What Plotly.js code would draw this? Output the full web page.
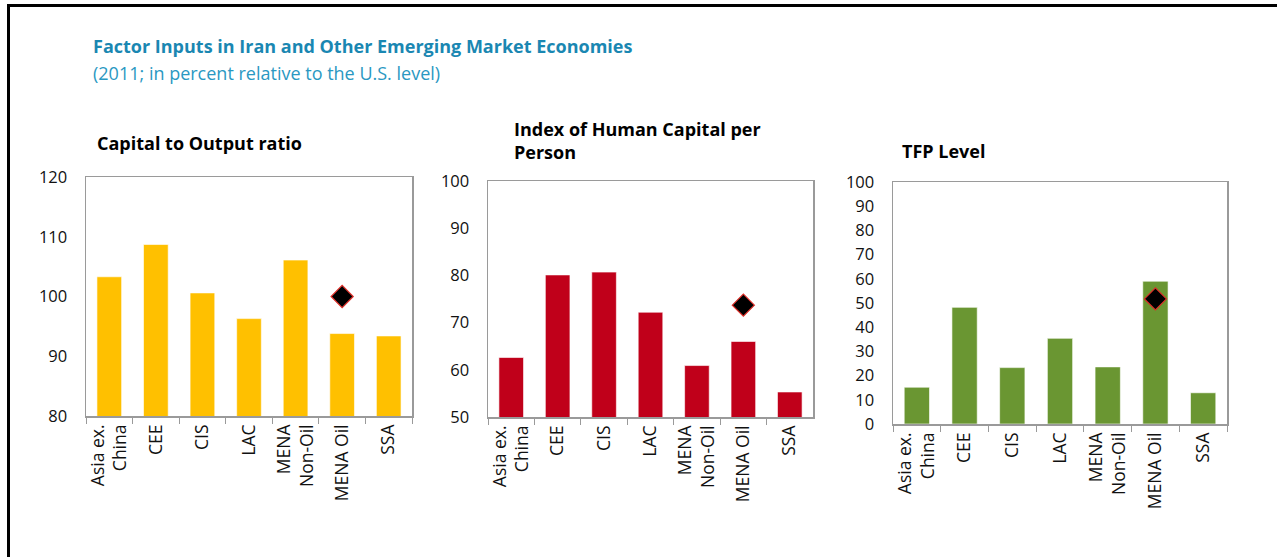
<!DOCTYPE html>
<html>
<head>
<meta charset="utf-8">
<script src="https://cdn.plot.ly/plotly-3.0.1.min.js"></script>
<style>
  html, body { margin: 0; padding: 0; background: #fff; }
  #chart { width: 1277px; height: 557px; }
</style>
</head>
<body>
<div id="chart"></div>
<script>
// ---- data ----
const categories = ["Asia ex.<br>China", "CEE", "CIS", "LAC", "MENA<br>Non-Oil", "MENA Oil", "SSA"];
const capitalOutput = [103.3, 108.7, 100.6, 96.3, 106.1, 93.8, 93.4];
const humanCapital = [62.6, 80.1, 80.7, 72.2, 60.9, 66.0, 55.3];
const tfpLevel = [15.2, 48.2, 23.3, 35.4, 23.6, 59.0, 12.9];
const iranCategory = "MENA Oil";
const iranCapitalOutput = [100.0];
const iranHumanCapital = [73.7];
const iranTfp = [51.7];
const panelTitles = ["Capital to Output ratio", "Index of Human Capital per<br>Person", "TFP Level"];
const mainTitle = "Factor Inputs in Iran and Other Emerging Market Economies";
const subTitle = "(2011; in percent relative to the U.S. level)";

// ---- styles ----
const W = 1277, H = 557;
const px = v => v / W;
const py = v => 1 - v / H;
const FONT = "Open Sans, Noto Sans, sans-serif";
const colors = ["#FFC000", "#C0001A", "#6A9632"];

function barTrace(vals, color, xa, ya) {
  return {
    type: "bar", x: categories, y: vals, xaxis: xa, yaxis: ya,
    marker: { color: color, line: { color: "rgba(255,255,255,0.6)", width: 1 } },
    width: 0.53, showlegend: false, hoverinfo: "y"
  };
}
function iranTrace(vals, xa, ya) {
  return {
    type: "scatter", mode: "markers", x: [iranCategory], y: vals, xaxis: xa, yaxis: ya,
    marker: { symbol: "diamond", size: 17, color: "#000", line: { color: "#E0302A", width: 1.2 } },
    showlegend: false, cliponaxis: false
  };
}

const data = [
  barTrace(capitalOutput, colors[0], "x", "y"),
  iranTrace(iranCapitalOutput, "x", "y"),
  barTrace(humanCapital, colors[1], "x2", "y2"),
  iranTrace(iranHumanCapital, "x2", "y2"),
  barTrace(tfpLevel, colors[2], "x3", "y3"),
  iranTrace(iranTfp, "x3", "y3")
];

function xaxis(d0, d1, anchor) {
  return {
    domain: [px(d0), px(d1)], anchor: anchor, type: "category",
    showline: true, linecolor: "#9a9a9a", linewidth: 1.5, mirror: true,
    ticks: "outside", tickson: "boundaries", ticklen: 6, tickcolor: "#9a9a9a",
    tickangle: -90, showgrid: false, fixedrange: true,
    tickfont: { family: FONT, size: 17.5, color: "#111" }
  };
}
function yaxis(b, t, anchor, range, dtick) {
  return {
    domain: [py(b), py(t)], anchor: anchor, range: range, dtick: dtick,
    showline: true, linecolor: "#9a9a9a", linewidth: 1.5, mirror: true,
    ticks: "", showgrid: false, zeroline: false, fixedrange: true,
    ticklabelstandoff: 14,
    tickfont: { family: FONT, size: 16.5, color: "#111" }
  };
}

const layout = {
  width: W, height: H,
  margin: { l: 0, r: 0, t: 0, b: 0 },
  paper_bgcolor: "#fff", plot_bgcolor: "#fff",
  bargap: 0.47,
  xaxis: xaxis(86, 412, "y"),
  yaxis: yaxis(416, 177, "x", [80, 120], 10),
  xaxis2: xaxis(488, 813, "y2"),
  yaxis2: yaxis(417, 181, "x2", [50, 100], 10),
  xaxis3: xaxis(893, 1227, "y3"),
  yaxis3: yaxis(424, 182, "x3", [0, 100], 10),
  shapes: [
    { type: "line", xref: "paper", yref: "paper", x0: px(8.5), x1: px(8.5), y0: 0, y1: py(5), line: { color: "#000", width: 3 } },
    { type: "line", xref: "paper", yref: "paper", x0: px(7), x1: 1, y0: py(5.5), y1: py(5.5), line: { color: "#000", width: 3 } }
  ],
  annotations: [
    { text: "<b>" + mainTitle + "</b>", xref: "paper", yref: "paper", x: px(91), y: py(46), xanchor: "left", yanchor: "middle", showarrow: false,
      font: { family: FONT, size: 18, color: "#1A87B2" } },
    { text: subTitle, xref: "paper", yref: "paper", x: px(91), y: py(73), xanchor: "left", yanchor: "middle", showarrow: false,
      font: { family: FONT, size: 18, color: "#2A98C2" } },
    { text: "<b>" + panelTitles[0] + "</b>", xref: "paper", yref: "paper", x: px(95), y: py(143), xanchor: "left", yanchor: "middle", showarrow: false,
      font: { family: FONT, size: 18, color: "#000" } },
    { text: "<b>" + panelTitles[1] + "</b>", xref: "paper", yref: "paper", x: px(512), y: py(140), xanchor: "left", yanchor: "middle", align: "left", showarrow: false,
      font: { family: FONT, size: 18, color: "#000" } },
    { text: "<b>" + panelTitles[2] + "</b>", xref: "paper", yref: "paper", x: px(900), y: py(151), xanchor: "left", yanchor: "middle", showarrow: false,
      font: { family: FONT, size: 18, color: "#000" } }
  ]
};

Plotly.newPlot("chart", data, layout, { displayModeBar: false, staticPlot: true });
</script>
</body>
</html>
